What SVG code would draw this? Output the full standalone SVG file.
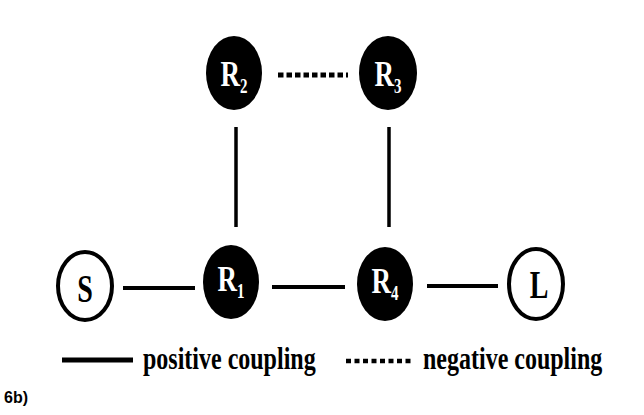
<svg xmlns="http://www.w3.org/2000/svg" width="644" height="415" viewBox="0 0 644 415">
<style>
.res{fill:#000;}
.port{fill:#fff;stroke:#000;stroke-width:4;}
.lbl{font-family:"Liberation Serif","Times New Roman",serif;font-weight:bold;text-anchor:middle;}
.w{fill:#fff;}
.k{fill:#000;}
.pos{stroke:#000;stroke-width:4;fill:none;}
.neg{stroke:#000;stroke-width:5;stroke-dasharray:5.5 3;fill:none;}
.leg{font-family:"Liberation Serif","Times New Roman",serif;font-weight:bold;font-size:24px;fill:#000;}
</style>
<rect width="644" height="415" fill="#fff"/>
<g id="connectors">
<line class="neg" x1="278" y1="75" x2="348" y2="75"/>
<line class="pos" x1="236" y1="127" x2="236" y2="227" style="stroke-width:3.5"/>
<line class="pos" x1="389" y1="127" x2="389" y2="227" style="stroke-width:3.5"/>
<line class="pos" x1="123" y1="288" x2="195" y2="288"/>
<line class="pos" x1="272" y1="287" x2="345" y2="287"/>
<line class="pos" x1="427" y1="286" x2="498" y2="286"/>
</g>
<g id="R2">
<ellipse class="res" cx="234" cy="73" rx="28" ry="37"/>
<g transform="translate(234,86) scale(1,1.35)"><text class="lbl w" font-size="27">R<tspan font-size="15" dy="5">2</tspan></text></g>
</g>
<g id="R3">
<ellipse class="res" cx="388" cy="73" rx="29" ry="37"/>
<g transform="translate(388,86) scale(1,1.35)"><text class="lbl w" font-size="27">R<tspan font-size="15" dy="5">3</tspan></text></g>
</g>
<g id="R1">
<ellipse class="res" cx="231" cy="282" rx="28" ry="37"/>
<g transform="translate(231,291) scale(1,1.35)"><text class="lbl w" font-size="27">R<tspan font-size="15" dy="5">1</tspan></text></g>
</g>
<g id="R4">
<ellipse class="res" cx="385" cy="284" rx="28" ry="37"/>
<g transform="translate(385,293) scale(1,1.35)"><text class="lbl w" font-size="27">R<tspan font-size="15" dy="5">4</tspan></text></g>
</g>
<g id="S">
<ellipse class="port" cx="85" cy="286" rx="27" ry="34"/>
<g transform="translate(85,302) scale(1,1.4)"><text class="lbl k" font-size="28">S</text></g>
</g>
<g id="L">
<ellipse class="port" cx="536" cy="284" rx="27" ry="35"/>
<g transform="translate(539,298) scale(1,1.4)"><text class="lbl k" font-size="28">L</text></g>
</g>
<g id="legend">
<line class="pos" x1="62" y1="360" x2="133" y2="360" style="stroke-width:5"/>
<g transform="translate(143,369) scale(1,1.35)"><text class="leg">positive coupling</text></g>
<line x1="346" y1="361" x2="413" y2="361" stroke="#000" stroke-width="4.5" stroke-dasharray="5 3.5"/>
<g transform="translate(423,369) scale(1,1.35)"><text class="leg">negative coupling</text></g>
</g>
<text x="4" y="403" font-family="Liberation Sans, Arial, sans-serif" font-weight="bold" font-size="16" fill="#000">6b)</text>
</svg>
